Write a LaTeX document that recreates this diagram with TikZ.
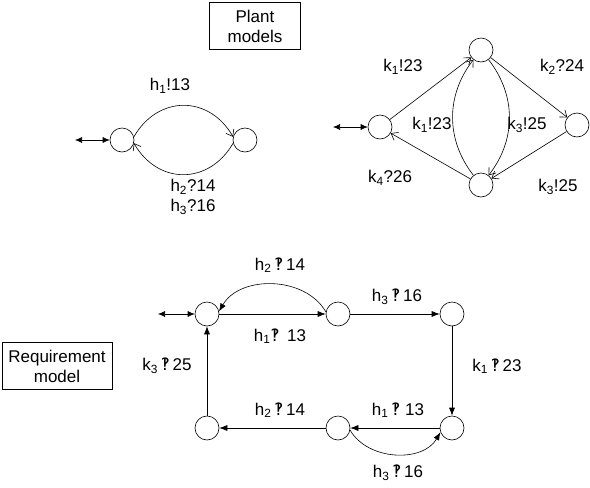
\documentclass[tikz,border=0pt]{standalone}
\usepackage{fontspec}
\usetikzlibrary{arrows.meta}
\setmainfont{Liberation Sans}
\newfontfamily\djv{DejaVu Sans}
\newcommand{\ib}{{\djv ‽}}
\begin{document}
\begin{tikzpicture}[x=1pt,y=-1pt,font=\fontsize{17}{20}\selectfont, line width=0.6pt]
\tikzstyle{loc}=[circle, minimum size=24pt, inner sep=0, draw=black]
\tikzstyle{lbl}=[inner sep=1pt]
\tikzstyle{titel}=[draw=black, align=center, inner sep=0, minimum height=47pt]
\tikzstyle{open}=[-{Straight Barb[length=6pt, width=9pt]}]
\tikzstyle{full}=[-{Latex[length=8pt, width=6pt]}]
\tikzstyle{both}=[{Latex[length=7pt, width=6pt]}-{Latex[length=7pt, width=6pt]}]
\useasboundingbox (0,0) rectangle (590,488);
% plant models
\node[titel, minimum width=91pt] (plant) at(255,26){Plant\\models};
\node[loc] (hA) at(122,140){};
\node[loc] (hB) at(245,140){};
\coordinate (h0) at(75,140);
\draw[both](h0)--(hA);
\draw[open](hA.15) to[out=60, in=120, looseness=1.25] (hB.165);
\draw[open](hB.195) to[out=-120, in=-60, looseness=1.25] (hA.-15);
\node[lbl] (h13) at(170,86){h\textsubscript{1}!13};
\node[lbl, align=center] (h1416) at(193,197){h\textsubscript{2}?14\\h\textsubscript{3}?16};
\node[loc] (kL) at(380,127){};
\node[loc] (kT) at(481,50){};
\node[loc] (kR) at(577,125){};
\node[loc] (kB) at(481,185){};
\coordinate (k0) at(333,127);
\draw[both](k0)--(kL);
\draw[open](kL)--(kT);
\draw[open](kT)--(kR);
\draw[open](kR)--(kB);
\draw[open](kB)--(kL);
\draw[open](kB) to[bend left=38] (kT);
\draw[open](kT) to[bend left=38] (kB);
\node[lbl] (k23a) at(403,67){k\textsubscript{1}!23};
\node[lbl] (k24) at(562,67){k\textsubscript{2}?24};
\node[lbl] (k23b) at(432,125){k\textsubscript{1}!23};
\node[lbl] (k25a) at(527,125){k\textsubscript{3}!25};
\node[lbl] (k26) at(390,178){k\textsubscript{4}?26};
\node[lbl] (k25b) at(558,187){k\textsubscript{3}!25};
% requirement model
\node[titel, minimum width=110pt] (req) at(57,366){Requirement\\model};
\node[loc] (rA) at(207,314){};
\node[loc] (rB) at(338,314){};
\node[loc] (rC) at(452,314){};
\node[loc] (rD) at(452,428){};
\node[loc] (rE) at(338,428){};
\node[loc] (rF) at(207,428){};
\coordinate (r0) at(158,314);
\draw[both](r0)--(rA);
\draw[full](rA)--(rB);
\draw[full](rB.170) to[out=120, in=60] (rA.12);
\draw[full](rB)--(rC);
\draw[full](rC)--(rD);
\draw[full](rD)--(rE);
\draw[full](rE.-10) to[out=-60, in=-120] (rD.200);
\draw[full](rE)--(rF);
\draw[full](rF)--(rA);
\node[lbl] (r14a) at(280,265){h\textsubscript{2}\,\ib\,14};
\node[lbl] (r13a) at(280,336){h\textsubscript{1}\ib\,\ 13};
\node[lbl] (r16a) at(397,297){h\textsubscript{3}\,\ib\,16};
\node[lbl] (r23) at(497,366){k\textsubscript{1}\,\ib\,23};
\node[lbl] (r25) at(167,366){k\textsubscript{3}\,\ib\,25};
\node[lbl] (r13b) at(398,410){h\textsubscript{1}\,\ib\ 13};
\node[lbl] (r14b) at(280,410){h\textsubscript{2}\,\ib\,14};
\node[lbl] (r16b) at(398,473){h\textsubscript{3}\,\ib\,16};
\end{tikzpicture}
\end{document}
